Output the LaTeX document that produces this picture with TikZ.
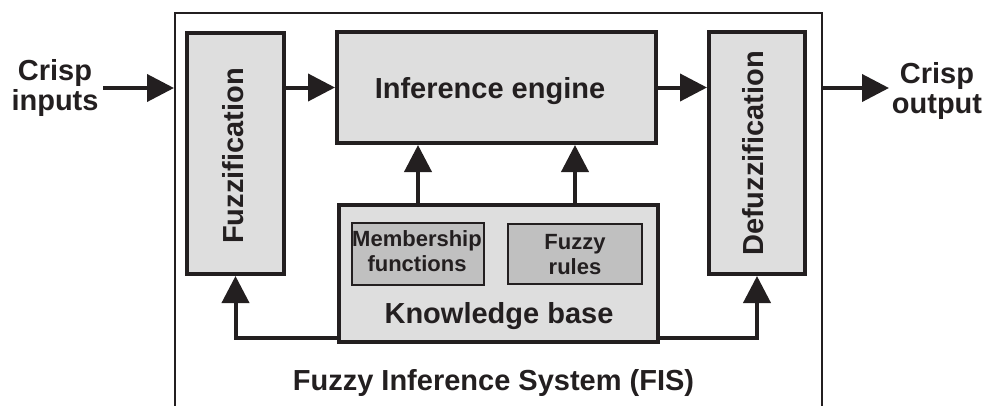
\documentclass[tikz,border=0pt]{standalone}
\usepackage{fontspec}
\setmainfont{Liberation Sans}
\usetikzlibrary{arrows.meta}
\definecolor{ink}{HTML}{231F20}
\definecolor{boxgray}{HTML}{DEDEDE}
\definecolor{innergray}{HTML}{C0C0C0}
\begin{document}
\begin{tikzpicture}[x=1pt,y=-1pt,
  blk/.style={draw=ink, fill=boxgray, line width=4pt, inner sep=0pt},
  sub/.style={draw=ink, fill=innergray, line width=2.5pt, inner sep=0pt},
  lbl/.style={text=ink, font=\bfseries\fontsize{29}{30}\selectfont, align=center, inner sep=0pt},
  slbl/.style={text=ink, font=\bfseries\fontsize{22}{25}\selectfont, align=center, inner sep=0pt},
  arr/.style={draw=ink, line width=4pt, -{Triangle[length=27pt,width=27pt]}},
]
\useasboundingbox (0,0) rectangle (986,405);
\clip (0,0) rectangle (986,405);
% outer frame (open at the bottom of the picture)
\node[draw=ink, line width=1.5pt, inner sep=0pt, minimum width=647pt, minimum height=440pt, anchor=north west] (fis) at (174,12) {};
% blocks
\node[blk, minimum width=97pt, minimum height=241pt] (fz) at (235.5,153.5) {};
\node[blk, minimum width=319pt, minimum height=111pt] (ie) at (496.5,87.5) {};
\node[blk, minimum width=319pt, minimum height=137pt] (kb) at (498.5,273.5) {};
\node[sub, minimum width=132pt, minimum height=62pt] (mf) at (418,254) {};
\node[sub, minimum width=134pt, minimum height=60pt] (fr) at (575,254) {};
\node[blk, minimum width=96pt, minimum height=242pt] (dz) at (757,153) {};
% labels
\node[lbl, rotate=90] (fzl) at (233,156) {Fuzzification};
\node[lbl, rotate=90] (dzl) at (753.5,153.5) {Defuzzification};
\node[lbl, anchor=base] (iel) at (490,98) {Inference engine};
\node[lbl, anchor=base] (kbl) at (499,323) {Knowledge base};
\node[slbl] (mfl) at (417,251.5) {Membership\\functions};
\node[slbl] (frl) at (575,254.5) {Fuzzy\\rules};
\node[lbl] (inp) at (55,87.5) {Crisp\\inputs};
\node[lbl] (outp) at (937,90.5) {Crisp\\output};
\node[lbl, anchor=base] (fisl) at (493.5,390) {Fuzzy Inference System (FIS)};
% connectors
\coordinate (inS) at (103,88);
\coordinate (outE) at (889,88);
\draw[arr] (inS) -- (inS -| fis.west);
\draw[arr] (fz.east |- ie.west) -- (ie.west);
\draw[arr] (ie.east) -- (dz.west |- ie.east);
\draw[arr] (fis.east |- outE) -- (outE);
\draw[arr] (kb.north -| mf.north) -- (ie.south -| mf.north);
\draw[arr] (kb.north -| fr.north) -- (ie.south -| fr.north);
\draw[arr] ([yshift=6pt]kb.south west) -| (fz.south);
\draw[arr] ([yshift=6pt]kb.south east) -| (dz.south);
\end{tikzpicture}
\end{document}
